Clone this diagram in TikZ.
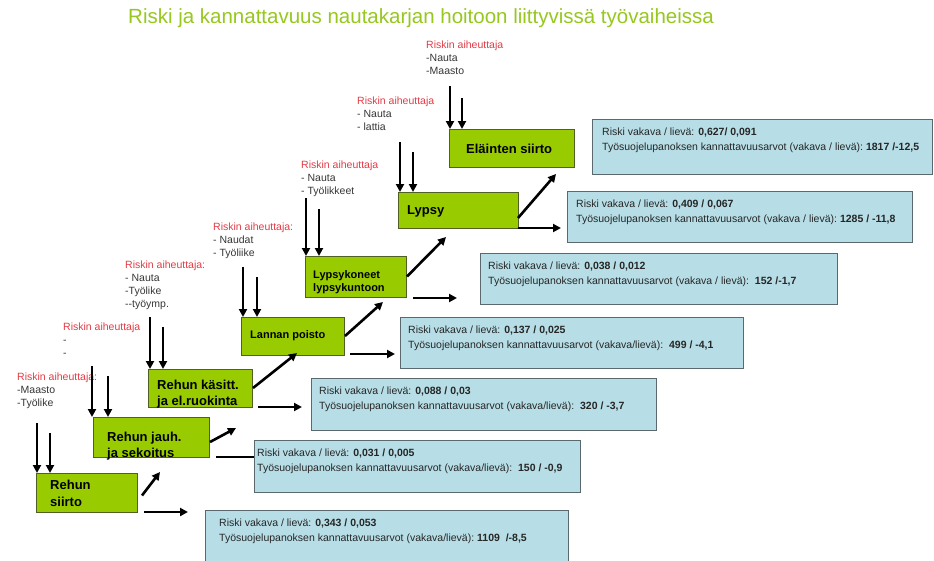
\documentclass[tikz,border=0pt]{standalone}
\usepackage{fontspec}
\setmainfont{Liberation Sans}
\usetikzlibrary{arrows.meta}
\definecolor{titlegreen}{RGB}{150,200,30}
\definecolor{boxgreen}{RGB}{153,204,0}
\definecolor{boxgreenline}{RGB}{80,95,35}
\definecolor{boxblue}{RGB}{183,222,230}
\definecolor{boxblueline}{RGB}{90,105,110}
\definecolor{riskred}{RGB}{225,60,70}
\definecolor{itemgray}{RGB}{55,55,55}
\begin{document}
\begin{tikzpicture}[x=1pt,y=-1pt,
  stepbox/.style={draw=boxgreenline, fill=boxgreen, line width=0.9pt, inner sep=0pt, outer sep=0pt, anchor=north west},
  valbox/.style={draw=boxblueline, fill=boxblue, line width=0.9pt, inner sep=0pt, outer sep=0pt, anchor=north west},
  steptext/.style={font=\fontsize{13}{16}\selectfont\bfseries, align=left, inner sep=0pt, text=black},
  smallsteptext/.style={font=\fontsize{11}{13}\selectfont\bfseries, align=left, inner sep=0pt, text=black},
  valtext/.style={font=\fontsize{10.5}{15}\selectfont, align=left, inner sep=0pt, anchor=north west, text=black!85},
  risktext/.style={font=\fontsize{10.5}{13}\selectfont, align=left, inner sep=0pt, anchor=north west, text=itemgray},
  arr/.style={line width=2.6pt, -{Triangle[length=8pt,width=8pt]}},
  plain/.style={line width=2.6pt}
]
\useasboundingbox[fill=white] (0,0) rectangle (934,560);

% title
\node[font=\fontsize{20.5}{23}\selectfont, text=titlegreen, anchor=west, inner sep=0pt] (title) at (128,18) {Riski ja kannattavuus nautakarjan hoitoon liittyvissä työvaiheissa};

% value boxes
\node[valbox, minimum width=340pt, minimum height=55pt] (velain) at (592,119) {};
\node[valbox, minimum width=345pt, minimum height=51pt] (vlypsy) at (567,191) {};
\node[valbox, minimum width=357pt, minimum height=51pt] (vkoneet) at (480,253) {};
\node[valbox, minimum width=343pt, minimum height=51pt] (vlannan) at (400,317) {};
\node[valbox, minimum width=345pt, minimum height=52pt] (vkasitt) at (311,378) {};
\node[valbox, minimum width=326pt, minimum height=52pt] (vjauh) at (254,440) {};
\node[valbox, minimum width=363pt, minimum height=60pt] (vsiirto) at (205,510) {};

\node[valtext] (tvelain) at (602,128) {Riski vakava / lievä: \textbf{0,627/ 0,091}\\Työsuojelupanoksen kannattavuusarvot (vakava / lievä):\ \textbf{1817 /-12,5}};
\node[valtext] (tvlypsy) at (576,200) {Riski vakava / lievä: \textbf{0,409 / 0,067}\\Työsuojelupanoksen kannattavuusarvot (vakava / lievä):\ \textbf{1285 / -11,8}};
\node[valtext] (tvkoneet) at (488,262) {Riski vakava / lievä: \textbf{0,038 / 0,012}\\Työsuojelupanoksen kannattavuusarvot (vakava / lievä):\ \ \textbf{152 /-1,7}};
\node[valtext] (tvlannan) at (408,326) {Riski vakava / lievä: \textbf{0,137 / 0,025}\\Työsuojelupanoksen kannattavuusarvot (vakava/lievä):\ \ \textbf{499 / -4,1}};
\node[valtext] (tvkasitt) at (319,387) {Riski vakava / lievä: \textbf{0,088 / 0,03}\\Työsuojelupanoksen kannattavuusarvot (vakava/lievä):\ \ \textbf{320 / -3,7}};
\node[valtext] (tvjauh) at (257,449) {Riski vakava / lievä: \textbf{0,031 / 0,005}\\Työsuojelupanoksen kannattavuusarvot (vakava/lievä):\ \ \textbf{150 / -0,9}};
\node[valtext] (tvsiirto) at (219,519) {Riski vakava / lievä: \textbf{0,343 / 0,053}\\Työsuojelupanoksen kannattavuusarvot (vakava/lievä):\ \textbf{1109\ \ /-8,5}};

% step boxes
\node[stepbox, minimum width=101pt, minimum height=39pt] (gsiirto) at (36,473) {};
\node[stepbox, minimum width=116pt, minimum height=40pt] (gjauh) at (93,417) {};
\node[stepbox, minimum width=104pt, minimum height=38pt] (gkasitt) at (148,369) {};
\node[stepbox, minimum width=103pt, minimum height=38pt] (glannan) at (241,317) {};
\node[stepbox, minimum width=101pt, minimum height=41pt] (gkoneet) at (305,256) {};
\node[stepbox, minimum width=120pt, minimum height=36pt] (glypsy) at (398,192) {};
\node[stepbox, minimum width=125pt, minimum height=38pt] (gelain) at (449,129) {};

\node[steptext, anchor=north west] (tsiirto) at (50,480) {Rehun\\[1pt]siirto};
\node[steptext, anchor=north west] (tjauh) at (107,432) {Rehun jauh.\\ja sekoitus};
\node[steptext, anchor=north west] (tkasitt) at (157,380) {Rehun käsitt.\\ja el.ruokinta};
\node[smallsteptext, anchor=west] (tlannan) at (250,336) {Lannan poisto};
\node[smallsteptext, anchor=north west] (tkoneet) at (313,270) {Lypsykoneet\\lypsykuntoon};
\node[steptext, anchor=west] (tlypsy) at (407,211) {Lypsy};
\node[steptext, anchor=west] (telain) at (466,149) {Eläinten siirto};

% risk labels
\node[risktext] (rsiirto) at (17,373) {\textcolor{riskred}{Riskin aiheuttaja:}\\-Maasto\\-Työlike};
\node[risktext] (rjauh) at (63,323) {\textcolor{riskred}{Riskin aiheuttaja}\\-\\-};
\node[risktext] (rkasitt) at (125,261) {\textcolor{riskred}{Riskin aiheuttaja:}\\- Nauta\\-Työlike\\-{}-työymp.};
\node[risktext] (rlannan) at (213,223) {\textcolor{riskred}{Riskin aiheuttaja:}\\- Naudat\\- Työliike};
\node[risktext] (rkoneet) at (301,161) {\textcolor{riskred}{Riskin aiheuttaja}\\- Nauta\\- Työlikkeet};
\node[risktext] (rlypsy) at (357,97) {\textcolor{riskred}{Riskin aiheuttaja}\\- Nauta\\- lattia};
\node[risktext] (relain) at (426,41) {\textcolor{riskred}{Riskin aiheuttaja}\\-Nauta\\-Maasto};

% vertical arrows
\coordinate (ve1) at (450,86);  \coordinate (ve2) at (462,98);
\coordinate (vl1) at (400,142); \coordinate (vl2) at (413,152);
\coordinate (vk1) at (306,198); \coordinate (vk2) at (319,209);
\coordinate (vn1) at (243,267); \coordinate (vn2) at (257,277);
\coordinate (vc1) at (150,317); \coordinate (vc2) at (163,327);
\coordinate (vj1) at (92,366);  \coordinate (vj2) at (108,376);
\coordinate (vs1) at (37,423);  \coordinate (vs2) at (50,433);
\foreach \c/\b in {ve1/gelain,ve2/gelain,vl1/glypsy,vl2/glypsy,vk1/gkoneet,vk2/gkoneet,vn1/glannan,vn2/glannan,vc1/gkasitt,vc2/gkasitt,vj1/gjauh,vj2/gjauh,vs1/gsiirto,vs2/gsiirto}
  \draw[arr] (\c) -- (\c |- \b.north);

% diagonal arrows
\coordinate (ds) at (160,472);
\coordinate (dj) at (236,428);
\coordinate (dc) at (297,353);
\coordinate (dn) at (383,302);
\coordinate (dk) at (446,237);
\coordinate (dl) at (556,174);
\draw[arr] ([shift={(5,3)}]gsiirto.east) -- (ds);
\draw[arr] ([shift={(1,5)}]gjauh.east) -- (dj);
\draw[arr] ([shift={(1,0)}]gkasitt.east) -- (dc);
\draw[arr] ([shift={(1,0)}]glannan.east) -- (dn);
\draw[arr] ([shift={(1,0)}]gkoneet.east) -- (dk);
\draw[arr] ([shift={(0,8)}]glypsy.east) -- (dl);

% horizontal arrows
\coordinate (hs) at (188,512);
\coordinate (hc) at (302,407);
\coordinate (hn) at (395,354);
\coordinate (hk) at (457,298);
\coordinate (hl) at (561,228);
\draw[arr] ([shift={(7,0)}]gsiirto.south east) -- (hs);
\draw[plain] ([shift={(7,0)}]gjauh.south east) -- (vjauh.west |- gjauh.south east);
\draw[arr] ([shift={(6,0)}]gkasitt.south east) -- (hc);
\draw[arr] ([shift={(6,-1)}]glannan.south east) -- (hn);
\draw[arr] ([shift={(7,1)}]gkoneet.south east) -- (hk);
\draw[arr] (glypsy.south east) -- (hl);
\end{tikzpicture}
\end{document}
